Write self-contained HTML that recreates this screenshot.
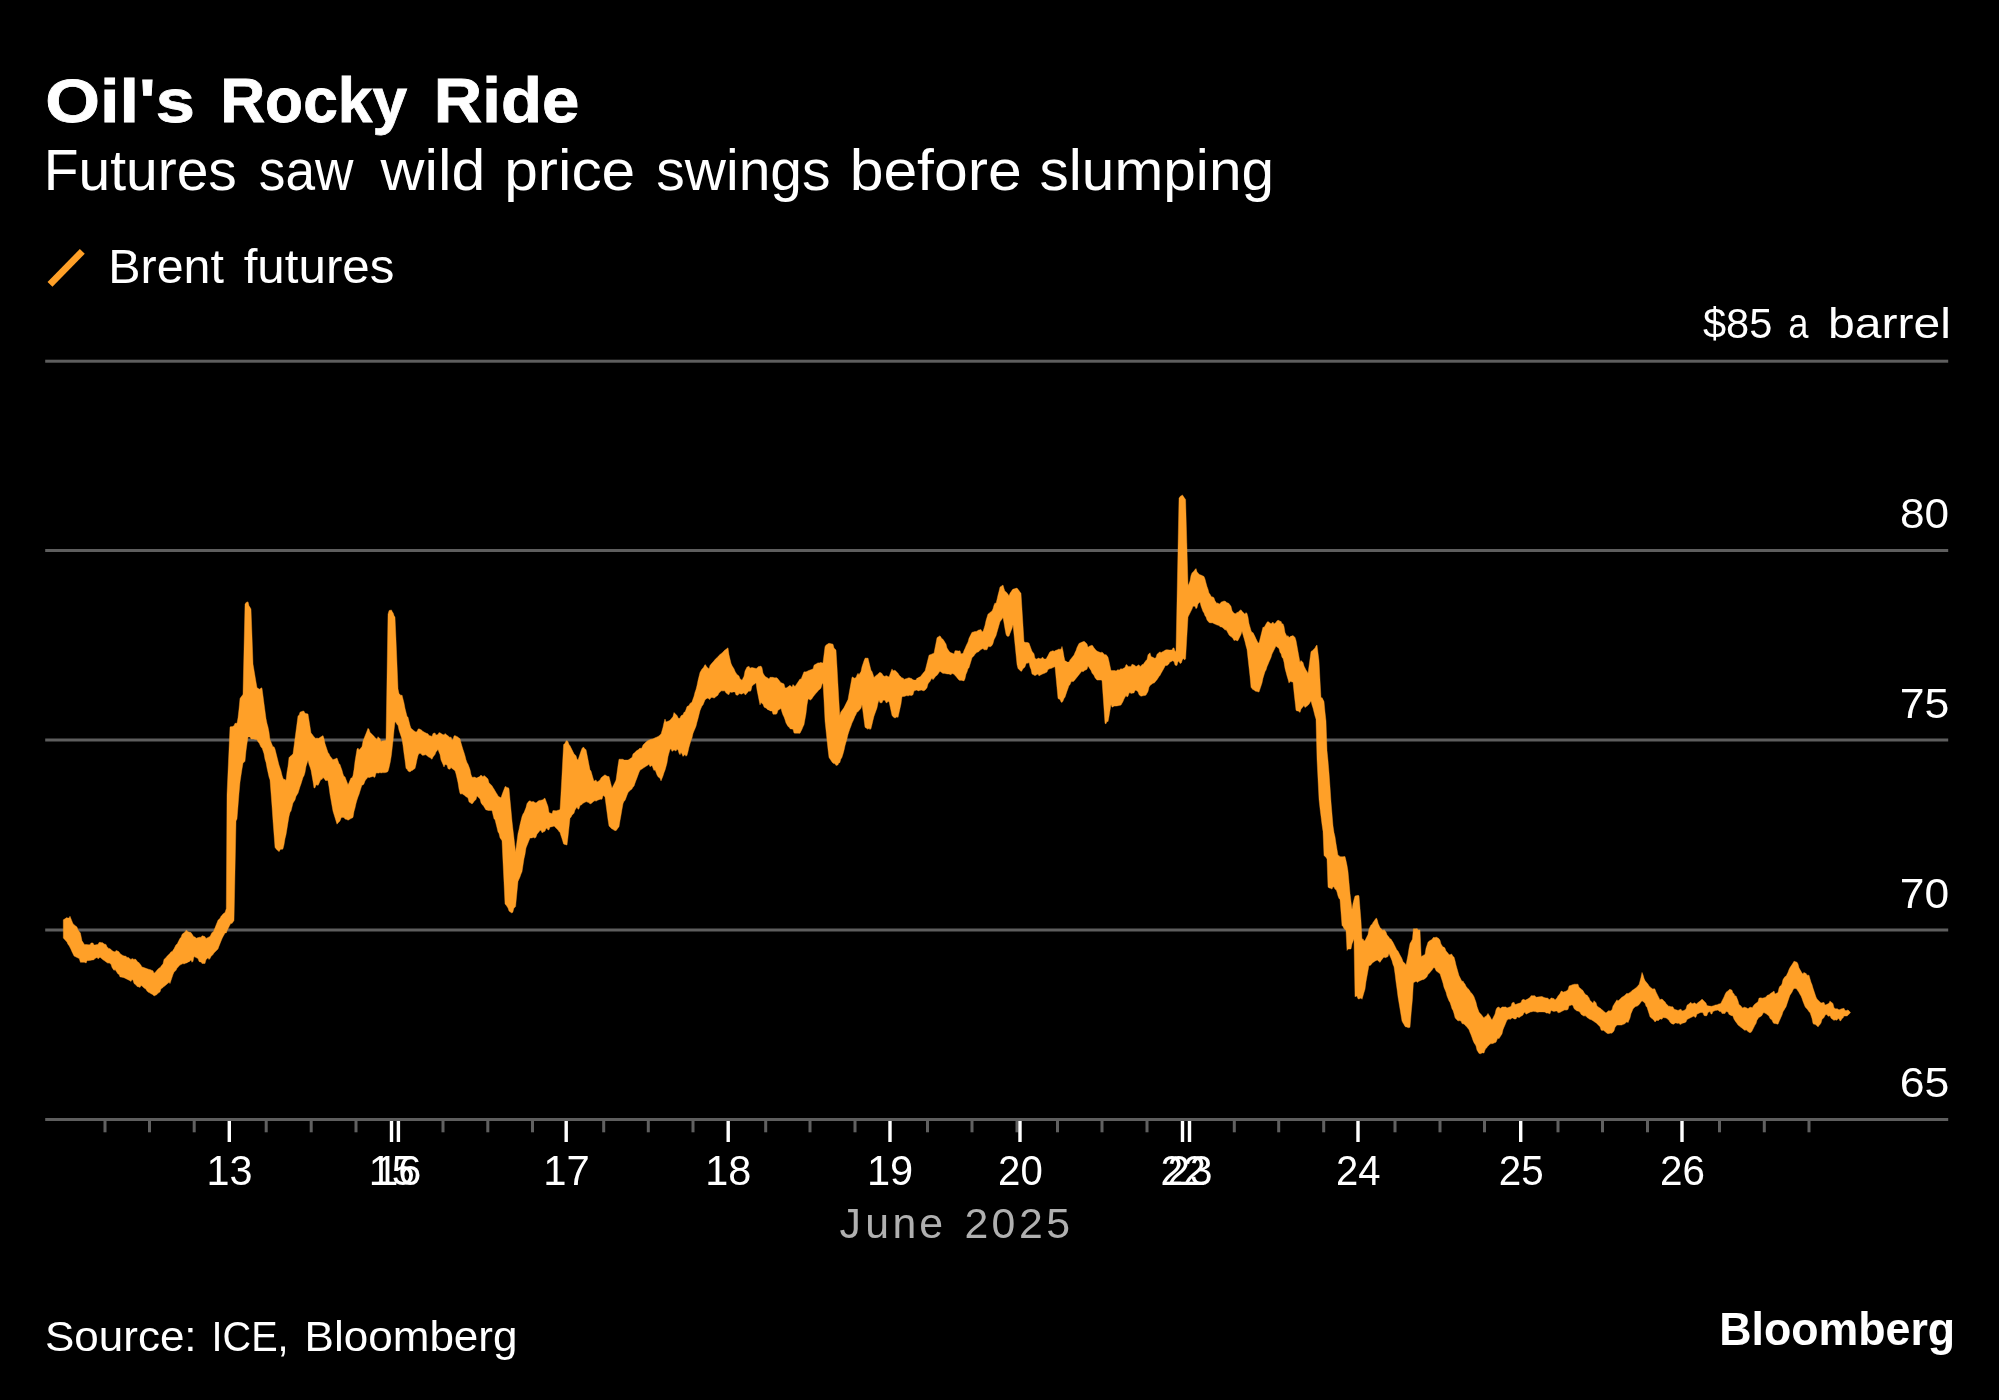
<!DOCTYPE html><html><head><meta charset="utf-8"><title>Oil's Rocky Ride</title>
<style>html,body{margin:0;padding:0;background:#000;}body{width:1999px;height:1400px;overflow:hidden;}svg{display:block;font-family:"Liberation Sans", sans-serif;}</style></head><body>
<svg width="1999" height="1400" viewBox="0 0 1999 1400">
<rect width="1999" height="1400" fill="#000"/>
<rect x="45.2" y="359.7" width="1903" height="3" fill="#5e5e5e"/>
<rect x="45.2" y="549.0" width="1903" height="3" fill="#5e5e5e"/>
<rect x="45.2" y="738.5" width="1903" height="3" fill="#5e5e5e"/>
<rect x="45.2" y="928.5" width="1903" height="3" fill="#5e5e5e"/>
<rect x="45.2" y="1118.0" width="1903" height="3" fill="#5e5e5e"/>
<rect x="103.5" y="1120" width="3" height="12.3" fill="#606060"/>
<rect x="148.0" y="1120" width="3" height="12.3" fill="#606060"/>
<rect x="192.7" y="1120" width="3" height="12.3" fill="#606060"/>
<rect x="264.7" y="1120" width="3" height="12.3" fill="#606060"/>
<rect x="309.7" y="1120" width="3" height="12.3" fill="#606060"/>
<rect x="354.5" y="1120" width="3" height="12.3" fill="#606060"/>
<rect x="441.5" y="1120" width="3" height="12.3" fill="#606060"/>
<rect x="486.3" y="1120" width="3" height="12.3" fill="#606060"/>
<rect x="531.0" y="1120" width="3" height="12.3" fill="#606060"/>
<rect x="602.2" y="1120" width="3" height="12.3" fill="#606060"/>
<rect x="646.8" y="1120" width="3" height="12.3" fill="#606060"/>
<rect x="691.5" y="1120" width="3" height="12.3" fill="#606060"/>
<rect x="764.2" y="1120" width="3" height="12.3" fill="#606060"/>
<rect x="808.5" y="1120" width="3" height="12.3" fill="#606060"/>
<rect x="853.5" y="1120" width="3" height="12.3" fill="#606060"/>
<rect x="926.0" y="1120" width="3" height="12.3" fill="#606060"/>
<rect x="970.5" y="1120" width="3" height="12.3" fill="#606060"/>
<rect x="1015.5" y="1120" width="3" height="12.3" fill="#606060"/>
<rect x="1056.0" y="1120" width="3" height="12.3" fill="#606060"/>
<rect x="1100.5" y="1120" width="3" height="12.3" fill="#606060"/>
<rect x="1145.5" y="1120" width="3" height="12.3" fill="#606060"/>
<rect x="1232.8" y="1120" width="3" height="12.3" fill="#606060"/>
<rect x="1277.2" y="1120" width="3" height="12.3" fill="#606060"/>
<rect x="1322.2" y="1120" width="3" height="12.3" fill="#606060"/>
<rect x="1393.5" y="1120" width="3" height="12.3" fill="#606060"/>
<rect x="1438.5" y="1120" width="3" height="12.3" fill="#606060"/>
<rect x="1483.0" y="1120" width="3" height="12.3" fill="#606060"/>
<rect x="1556.5" y="1120" width="3" height="12.3" fill="#606060"/>
<rect x="1601.0" y="1120" width="3" height="12.3" fill="#606060"/>
<rect x="1646.0" y="1120" width="3" height="12.3" fill="#606060"/>
<rect x="1718.0" y="1120" width="3" height="12.3" fill="#606060"/>
<rect x="1762.8" y="1120" width="3" height="12.3" fill="#606060"/>
<rect x="1807.5" y="1120" width="3" height="12.3" fill="#606060"/>
<rect x="227.6" y="1121" width="3.4" height="21" fill="#fff"/>
<rect x="389.8" y="1121" width="3.4" height="21" fill="#fff"/>
<rect x="396.7" y="1121" width="3.4" height="21" fill="#fff"/>
<rect x="564.5" y="1121" width="3.4" height="21" fill="#fff"/>
<rect x="726.5" y="1121" width="3.4" height="21" fill="#fff"/>
<rect x="888.3" y="1121" width="3.4" height="21" fill="#fff"/>
<rect x="1018.3" y="1121" width="3.4" height="21" fill="#fff"/>
<rect x="1180.8" y="1121" width="3.4" height="21" fill="#fff"/>
<rect x="1187.8" y="1121" width="3.4" height="21" fill="#fff"/>
<rect x="1356.3" y="1121" width="3.4" height="21" fill="#fff"/>
<rect x="1519.0" y="1121" width="3.4" height="21" fill="#fff"/>
<rect x="1680.3" y="1121" width="3.4" height="21" fill="#fff"/>
<path d="M63.3,928.9L63.3,919.8L64.2,919.3L65.1,918.8L66.0,917.8L67.0,917.8L68.0,918.1L69.0,918.1L70.0,916.2L70.8,918.2L71.6,920.2L72.8,923.2L74.0,924.7L75.0,925.5L76.0,926.2L77.0,927.0L78.0,930.0L79.2,931.5L80.4,933.0L81.2,936.8L82.0,940.8L83.2,942.6L84.4,944.4L85.3,944.5L86.2,944.5L87.1,944.6L88.0,944.7L89.0,944.7L90.0,944.7L91.0,942.9L92.0,942.9L93.0,942.9L94.0,945.1L95.0,944.9L96.0,944.7L97.0,944.6L98.0,944.4L99.0,942.5L100.0,942.3L101.0,942.5L102.0,942.7L103.0,942.8L104.0,944.0L105.0,944.2L106.0,944.4L107.0,946.7L108.0,947.7L109.0,948.7L110.0,948.6L111.0,949.6L112.0,950.6L113.0,951.3L114.0,951.6L115.0,951.9L116.0,950.5L117.0,950.8L118.0,951.2L119.0,951.8L120.0,953.5L121.0,954.2L122.0,954.9L123.0,955.5L124.0,955.9L125.0,956.0L126.0,956.2L127.0,957.4L128.0,957.5L129.0,957.7L130.0,958.9L131.0,959.4L132.0,958.4L133.0,958.9L134.0,959.4L135.0,959.1L136.0,959.6L137.0,961.0L138.0,962.3L139.0,962.6L140.0,963.9L141.0,965.3L142.0,967.0L143.0,967.3L144.0,967.6L145.0,968.0L146.0,968.3L147.0,968.7L148.0,969.0L149.0,969.4L150.0,969.6L151.0,970.0L152.0,970.4L153.0,970.8L154.0,973.2L155.0,972.4L156.0,971.6L157.0,970.1L158.0,969.3L159.0,968.0L160.0,967.7L161.0,966.3L162.0,965.0L163.0,963.7L164.0,959.4L165.0,958.4L166.0,957.4L167.0,956.2L168.0,955.2L169.0,954.2L170.0,953.2L171.0,951.7L172.0,951.8L173.0,950.3L174.0,948.8L175.0,946.8L176.0,944.8L177.0,944.3L178.0,942.3L179.0,940.3L180.0,938.3L181.0,937.5L182.0,934.4L183.0,933.6L184.0,932.7L185.0,931.9L186.0,930.3L187.0,930.5L188.0,931.8L189.0,932.0L190.0,932.3L191.0,932.6L192.0,934.1L193.0,935.6L194.0,937.1L195.0,936.8L196.0,938.3L197.0,938.0L198.0,937.6L199.0,937.4L200.0,937.0L201.0,937.4L202.0,935.7L203.0,936.0L204.0,936.3L205.0,936.7L206.0,938.4L207.0,937.9L208.0,937.4L209.0,936.9L210.0,936.4L211.0,934.4L212.0,932.4L213.0,932.3L214.0,930.3L215.0,927.8L216.0,925.2L217.0,922.7L218.0,920.2L219.0,919.2L220.0,918.2L221.0,916.3L222.0,915.3L223.0,913.9L224.0,913.2L225.0,912.6L226.3,908.6L227.0,794.6L228.0,772.0L229.0,749.6L230.0,727.0L231.0,726.5L232.0,726.7L233.0,726.2L234.0,725.7L235.0,723.3L236.0,723.3L237.0,723.3L238.0,717.8L239.0,709.1L240.0,698.4L241.0,697.1L242.0,695.7L243.0,694.3L244.0,649.3L245.0,604.3L246.0,602.5L247.0,602.2L248.0,601.8L249.0,605.7L250.0,607.3L251.0,609.0L252.0,636.0L253.0,664.1L254.0,670.1L255.0,676.1L256.0,682.1L257.0,687.8L258.0,688.2L259.0,688.9L260.0,689.3L261.0,687.8L262.0,688.2L263.0,695.7L264.0,703.4L265.0,710.9L266.0,718.4L267.0,723.4L268.0,727.1L269.0,732.1L270.0,739.7L271.0,742.1L272.0,744.5L273.0,746.9L274.0,746.7L275.0,749.1L276.0,753.1L277.0,757.0L278.0,761.0L279.0,765.0L280.0,768.0L281.0,771.0L282.0,775.2L283.0,778.2L284.0,779.6L285.0,779.3L286.0,780.6L287.0,771.9L288.0,766.2L289.0,757.6L290.0,756.6L291.0,755.8L292.0,754.8L293.0,753.8L294.0,746.2L295.0,738.6L296.0,731.0L297.0,723.4L298.0,715.8L299.0,715.4L300.0,712.2L301.0,711.8L302.0,711.4L303.0,711.0L304.0,711.2L305.0,713.3L306.0,713.5L307.0,713.7L308.0,714.0L309.0,720.3L310.0,726.6L311.0,733.0L312.0,734.1L313.0,735.4L314.0,736.7L315.0,737.7L316.0,738.7L317.0,737.7L318.0,738.7L319.0,738.1L320.0,737.4L321.0,736.8L322.0,736.2L323.0,735.6L324.0,738.6L325.0,743.5L326.0,746.5L327.0,749.5L328.0,752.5L329.0,753.7L330.0,756.1L331.0,757.3L332.0,758.5L333.0,759.7L334.0,759.2L335.0,759.0L336.0,758.5L337.0,758.0L338.0,760.8L339.0,763.6L340.0,764.6L341.0,767.4L342.0,770.2L343.0,773.9L344.0,776.5L345.0,776.8L346.0,779.5L347.0,782.1L348.0,784.8L349.0,782.7L350.0,780.3L351.0,777.9L352.0,777.9L353.0,775.5L354.0,769.5L355.0,761.2L356.0,755.2L357.0,749.2L358.0,748.0L359.0,750.1L360.0,748.9L361.0,747.7L362.0,746.5L363.0,741.3L364.0,738.6L365.0,735.9L366.0,733.6L367.0,730.9L368.0,728.3L369.0,729.3L370.0,732.3L371.0,733.3L372.0,734.3L373.0,735.3L374.0,736.3L375.0,737.4L376.0,738.4L377.0,739.4L378.0,736.7L379.0,737.7L380.0,738.7L381.0,741.4L382.0,741.1L383.0,740.8L384.0,740.8L385.0,740.5L386.0,740.2L387.0,677.2L388.0,614.2L389.1,610.5L390.3,610.2L391.4,609.9L392.3,611.8L393.2,613.1L394.1,615.8L395.0,617.0L396.0,639.4L397.0,664.1L398.0,688.8L399.0,693.5L400.0,694.5L401.0,695.5L402.0,695.0L403.0,699.0L404.0,703.0L405.0,708.3L406.0,712.3L407.0,716.3L408.0,717.3L409.0,721.3L410.0,725.3L411.0,728.3L412.0,729.1L413.0,729.9L414.0,730.7L415.0,731.5L416.0,732.0L417.0,731.5L418.0,729.2L419.0,728.7L420.0,729.3L421.0,729.8L422.0,730.4L423.0,731.4L424.0,732.0L425.0,732.6L426.0,733.1L427.0,733.5L428.0,733.8L429.0,735.4L430.0,735.7L431.0,736.0L432.0,736.4L433.0,733.5L434.0,733.2L435.0,732.9L436.0,735.1L437.0,734.8L438.0,734.4L439.0,732.6L440.0,732.9L441.0,733.2L442.0,734.2L443.0,734.6L444.0,734.9L445.0,733.5L446.0,734.3L447.0,735.2L448.0,735.8L449.0,736.7L450.0,737.5L451.0,736.9L452.0,740.2L453.0,739.6L454.0,736.0L455.0,735.4L456.0,736.2L457.0,736.4L458.0,737.2L459.0,738.0L460.0,738.8L461.0,742.8L462.0,746.2L463.0,749.5L464.0,752.4L465.0,755.7L466.0,759.7L467.0,762.4L468.0,764.2L469.0,766.8L470.0,769.5L471.0,774.5L472.0,777.1L473.0,777.5L474.0,776.9L475.0,777.3L476.0,777.7L477.0,778.1L478.0,777.1L479.0,777.1L480.0,776.1L481.0,775.1L482.0,775.9L483.0,776.7L484.0,775.5L485.0,776.3L486.0,777.1L487.0,778.1L488.0,779.1L489.0,782.8L490.0,783.8L491.0,784.8L492.0,785.8L493.0,787.5L494.0,789.0L495.0,790.7L496.0,792.4L497.0,794.0L498.0,795.7L499.0,796.8L500.0,797.3L501.0,797.8L502.0,794.7L503.0,792.0L504.0,789.4L505.0,786.7L506.0,786.5L507.0,787.8L508.0,787.6L509.0,788.5L510.0,799.5L511.0,810.1L512.0,821.1L512.9,829.0L513.8,836.5L514.7,844.4L515.6,851.9L516.8,842.4L518.0,833.4L519.0,829.4L520.0,824.5L521.0,820.5L522.0,816.5L523.0,814.0L524.0,812.6L525.0,810.1L526.0,807.6L527.0,803.6L528.0,802.3L529.0,801.1L530.0,800.8L531.0,801.4L532.0,802.0L533.0,801.3L534.0,801.9L535.0,802.5L536.0,802.9L537.0,802.1L538.0,801.3L539.0,800.5L540.0,800.4L541.0,800.2L542.0,800.0L543.0,799.8L544.0,798.5L545.0,798.3L546.0,801.0L547.0,803.8L548.0,806.5L549.0,812.5L550.0,812.9L551.0,813.3L552.0,813.7L553.0,810.4L554.0,810.8L555.0,810.5L556.0,810.9L557.0,810.5L558.0,810.2L559.0,809.9L560.0,809.5L560.9,794.8L561.8,778.3L562.7,761.0L563.6,744.5L564.7,743.8L565.9,741.2L567.0,740.5L568.0,741.8L569.0,744.4L570.0,745.7L571.0,747.7L572.0,749.7L573.0,751.8L574.0,753.8L575.0,754.8L576.0,755.8L577.0,758.9L578.0,759.9L579.0,757.1L580.0,753.9L581.0,751.1L582.0,748.4L583.0,747.3L584.0,747.6L585.0,749.3L586.0,749.5L587.0,754.5L588.0,759.5L589.0,764.8L590.0,769.8L591.0,771.0L592.0,774.5L593.0,778.0L594.0,781.3L595.0,780.6L596.0,779.9L597.0,782.0L598.0,781.4L599.0,780.7L600.0,780.0L601.0,777.9L602.0,777.1L603.0,776.3L604.0,775.5L605.0,774.7L606.0,775.6L607.0,776.1L608.0,776.6L609.0,776.4L610.0,780.4L611.0,784.4L612.0,788.2L613.0,786.2L614.0,784.2L615.0,782.2L616.0,780.1L617.0,772.8L618.0,765.5L619.0,759.2L620.0,759.2L621.0,759.2L622.0,759.2L623.0,759.2L624.0,760.1L625.0,760.1L626.0,760.1L627.0,760.1L628.0,760.1L629.0,759.5L630.0,758.8L631.0,758.1L632.0,757.5L633.0,753.9L634.0,753.3L635.0,752.3L636.0,751.3L637.0,750.3L638.0,750.0L639.0,749.0L640.0,748.0L641.0,748.5L642.0,747.5L643.0,745.0L644.0,744.0L645.0,743.0L646.0,742.0L647.0,741.2L648.0,740.5L649.0,739.9L650.0,739.8L651.0,739.2L652.0,739.2L653.0,738.8L654.0,738.4L655.0,737.8L656.0,737.4L657.0,737.0L658.0,736.5L659.0,736.0L660.0,734.7L661.0,734.2L662.0,730.7L663.0,727.2L664.0,722.5L665.0,719.0L666.0,722.0L667.0,721.6L668.0,721.2L669.0,720.8L670.0,720.2L671.0,719.0L672.0,717.7L673.0,716.5L674.0,712.5L675.0,713.5L676.0,714.5L677.0,715.5L678.0,717.6L679.0,718.6L680.0,718.1L681.0,715.8L682.0,715.3L683.0,714.8L684.0,712.3L685.0,712.1L686.0,709.6L687.0,706.6L688.0,706.1L689.0,705.6L690.0,703.4L691.0,702.9L692.0,701.8L693.0,699.0L694.0,696.2L695.0,692.2L696.0,689.4L697.0,685.4L698.0,680.5L699.0,676.5L700.0,672.5L701.0,670.7L702.0,668.9L703.0,668.2L704.0,666.4L705.0,664.6L706.0,665.4L707.0,667.2L708.0,667.9L709.0,668.7L710.0,665.5L711.0,664.3L712.0,663.1L713.0,662.0L714.0,660.8L715.0,659.6L716.0,658.4L717.0,657.8L718.0,656.6L719.0,655.4L720.0,654.5L721.0,653.7L722.0,652.9L723.0,652.1L724.0,650.8L725.0,650.0L726.0,649.3L727.0,648.5L728.0,647.8L729.0,654.8L730.0,659.1L731.0,663.3L732.0,665.6L733.0,667.2L734.0,668.8L735.0,671.3L736.0,672.9L737.0,674.5L738.0,675.3L739.0,676.1L740.0,678.7L741.0,679.5L742.0,680.2L743.0,678.2L744.0,676.2L745.0,671.1L746.0,669.1L747.0,667.1L748.0,666.7L749.0,666.3L750.0,668.2L751.0,667.8L752.0,667.4L753.0,667.7L754.0,668.0L755.0,668.2L756.0,668.5L757.0,668.2L758.0,666.8L759.0,666.5L760.0,666.3L761.0,666.1L762.0,667.7L763.0,673.1L764.0,674.7L765.0,676.3L766.0,677.1L767.0,677.4L768.0,678.2L769.0,679.0L770.0,677.3L771.0,677.3L772.0,677.3L773.0,677.3L774.0,677.8L775.0,677.8L776.0,677.8L777.0,677.8L778.0,679.0L779.0,680.2L780.0,681.4L781.0,682.7L782.0,683.1L783.0,683.5L784.0,683.9L785.0,687.7L786.0,688.1L787.0,687.6L788.0,686.8L789.0,686.1L790.0,685.2L791.0,686.2L792.0,687.2L793.0,684.5L794.0,685.5L795.0,686.5L796.0,685.0L797.0,683.4L798.0,682.1L799.0,680.5L800.0,678.9L801.0,679.2L802.0,676.7L803.0,674.2L804.0,671.7L805.0,672.0L806.0,671.7L807.0,671.5L808.0,670.8L809.0,670.4L810.0,670.0L811.0,669.7L812.0,669.3L813.0,668.9L814.0,665.2L815.0,664.6L816.0,664.0L817.0,663.4L818.0,662.8L819.0,663.1L820.0,662.7L821.0,662.3L822.0,663.1L823.0,662.7L824.0,654.7L825.0,646.7L826.0,645.1L827.0,644.6L828.0,643.8L829.0,643.3L830.0,643.4L831.0,643.7L832.0,643.9L833.0,644.2L834.0,648.1L835.0,649.1L836.0,650.1L837.0,666.6L837.9,683.1L838.8,699.1L839.8,715.6L840.8,712.1L841.9,710.6L843.0,709.1L844.0,707.6L845.0,705.6L846.0,703.5L847.0,701.5L848.0,699.5L849.0,693.8L850.0,688.3L851.0,682.8L852.0,677.3L853.0,676.9L854.0,678.3L855.0,677.9L856.0,677.5L857.0,674.9L858.0,673.3L859.0,674.7L860.0,673.1L861.0,671.5L862.0,666.7L863.0,663.7L864.0,660.7L865.0,658.3L866.0,657.9L867.0,658.3L868.0,658.0L869.0,662.3L870.0,666.3L871.0,670.3L872.0,671.6L873.0,674.3L874.0,677.4L875.0,676.4L876.0,675.4L877.0,674.9L878.0,673.9L879.0,672.9L880.0,672.3L881.0,672.9L882.0,673.5L883.0,675.5L884.0,676.1L885.0,676.5L886.0,675.6L887.0,676.0L888.0,676.4L889.0,676.9L890.0,674.2L891.0,671.6L892.0,668.9L893.0,670.8L894.0,670.5L895.0,670.2L896.0,671.2L897.0,672.3L898.0,673.3L899.0,674.8L900.0,676.3L901.0,676.7L902.0,678.2L903.0,677.8L904.0,679.4L905.0,679.0L906.0,678.7L907.0,678.4L908.0,678.0L909.0,677.7L910.0,678.1L911.0,678.4L912.0,678.7L913.0,679.8L914.0,680.1L915.0,680.1L916.0,680.1L917.0,678.1L918.0,678.1L919.0,677.0L920.0,677.0L921.0,675.8L922.0,674.5L923.0,673.3L924.0,672.1L925.0,670.9L926.0,667.2L927.0,663.2L928.0,659.2L929.0,655.2L930.0,654.8L931.0,654.4L932.0,654.0L933.0,653.6L934.0,653.2L935.0,647.9L936.0,643.0L937.0,637.7L938.0,637.0L939.0,636.4L940.0,635.8L941.0,637.3L942.0,638.8L943.0,639.3L944.0,640.8L945.0,642.4L946.0,644.0L947.0,647.9L948.0,649.5L949.0,651.1L950.0,652.3L951.0,652.7L952.0,653.1L953.0,653.5L954.0,653.9L955.0,650.7L956.0,650.7L957.0,650.7L958.0,651.0L959.0,651.0L960.0,650.7L961.0,653.9L962.0,653.6L963.0,653.4L964.0,650.6L965.0,648.4L966.0,646.1L967.0,643.9L968.0,641.9L969.0,638.3L970.0,636.3L971.0,634.3L972.0,632.3L973.0,632.2L974.0,631.7L975.0,631.6L976.0,631.4L977.0,631.2L978.0,630.2L979.0,630.0L980.0,629.8L981.0,629.6L982.0,631.8L983.0,631.6L984.0,628.4L985.0,625.2L986.0,620.5L987.0,617.3L988.0,614.1L989.0,613.4L990.0,612.5L991.0,611.7L992.0,611.0L993.0,608.7L994.0,605.2L995.0,602.9L996.0,603.6L997.0,599.4L998.0,595.1L999.0,591.3L1000.0,587.1L1001.0,586.4L1002.0,585.7L1003.0,585.1L1004.0,588.5L1005.0,591.5L1006.0,591.7L1007.0,593.0L1008.0,594.3L1009.0,595.7L1010.0,593.3L1011.0,591.8L1012.0,590.3L1013.0,589.1L1014.0,588.9L1015.0,588.6L1016.0,588.3L1017.0,588.1L1018.0,589.3L1019.0,590.6L1020.0,592.1L1021.0,593.3L1022.0,609.3L1023.0,625.3L1024.0,641.8L1025.0,642.2L1026.0,642.6L1027.0,642.3L1028.0,642.7L1029.0,643.1L1030.0,645.8L1031.0,648.5L1032.0,651.2L1033.0,652.5L1034.0,653.8L1035.0,658.4L1036.0,658.8L1037.0,659.2L1038.0,657.9L1039.0,658.3L1040.0,658.7L1041.0,658.7L1042.0,657.5L1043.0,657.5L1044.0,659.0L1045.0,659.0L1046.0,659.0L1047.0,657.3L1048.0,655.5L1049.0,653.6L1050.0,651.8L1051.0,651.6L1052.0,650.9L1053.0,650.7L1054.0,651.2L1055.0,651.0L1056.0,650.0L1057.0,650.2L1058.0,649.2L1059.0,649.2L1060.0,649.2L1061.0,649.2L1062.0,646.4L1063.0,650.7L1064.0,656.6L1065.0,661.0L1066.0,661.0L1067.0,662.1L1068.0,662.1L1069.0,662.1L1070.0,659.9L1071.0,658.7L1072.0,657.5L1073.0,656.3L1074.0,655.1L1075.0,652.6L1076.0,650.6L1077.0,647.4L1078.0,645.4L1079.0,643.4L1080.0,643.0L1081.0,642.6L1082.0,642.1L1083.0,641.7L1084.0,641.3L1085.0,642.0L1086.0,643.0L1087.0,644.0L1088.0,647.3L1089.0,646.6L1090.0,645.8L1091.0,645.7L1092.0,645.0L1093.0,646.2L1094.0,647.8L1095.0,649.0L1096.0,650.2L1097.0,651.1L1098.0,651.5L1099.0,651.9L1100.0,652.3L1101.0,652.7L1102.0,651.9L1103.0,652.9L1104.0,653.9L1105.0,654.9L1106.0,654.5L1107.0,655.8L1108.0,657.2L1109.0,661.3L1110.0,665.9L1111.0,670.6L1112.0,670.6L1113.0,670.6L1114.0,670.5L1115.0,670.5L1116.0,671.1L1117.0,670.3L1118.0,669.5L1119.0,670.2L1120.0,669.4L1121.0,668.6L1122.0,669.2L1123.0,668.6L1124.0,668.0L1125.0,667.4L1126.0,664.7L1127.0,664.7L1128.0,666.4L1129.0,666.4L1130.0,666.4L1131.0,666.4L1132.0,664.2L1133.0,664.6L1134.0,665.0L1135.0,665.4L1136.0,666.5L1137.0,666.1L1138.0,665.2L1139.0,664.8L1140.0,666.4L1141.0,666.0L1142.0,664.6L1143.0,664.6L1144.0,663.2L1145.0,661.8L1146.0,660.4L1147.0,659.4L1148.0,654.8L1149.0,653.8L1150.0,652.8L1151.0,656.5L1152.0,656.9L1153.0,657.3L1154.0,657.9L1155.0,658.3L1156.0,657.5L1157.0,654.2L1158.0,653.4L1159.0,652.6L1160.0,651.8L1161.0,652.7L1162.0,652.1L1163.0,651.5L1164.0,650.9L1165.0,650.3L1166.0,649.8L1167.0,649.8L1168.0,649.8L1169.0,650.0L1170.0,650.0L1171.0,650.0L1172.0,650.0L1173.0,647.9L1174.0,647.9L1175.0,651.2L1176.0,651.2L1177.0,600.2L1178.0,549.2L1179.0,498.2L1180.1,496.5L1181.3,495.7L1182.4,494.9L1183.5,496.6L1184.5,498.1L1185.6,499.5L1186.8,542.5L1188.0,585.5L1189.0,583.5L1190.0,581.0L1191.0,575.4L1192.0,572.9L1193.0,571.9L1194.0,570.9L1195.0,569.6L1196.0,568.6L1197.0,571.7L1198.0,572.9L1199.0,574.2L1200.0,574.7L1201.0,575.1L1202.0,575.5L1203.0,576.1L1204.0,576.5L1205.0,579.1L1206.0,582.9L1207.0,586.6L1208.0,589.2L1209.0,593.0L1210.0,594.2L1211.0,596.1L1212.0,597.3L1213.0,596.7L1214.0,597.9L1215.0,600.8L1216.0,602.2L1217.0,603.6L1218.0,602.8L1219.0,604.2L1220.0,603.6L1221.0,602.3L1222.0,601.7L1223.0,601.5L1224.0,600.9L1225.0,601.3L1226.0,601.7L1227.0,602.7L1228.0,603.1L1229.0,603.5L1230.0,604.9L1231.0,606.3L1232.0,610.5L1233.0,611.9L1234.0,613.3L1235.0,613.5L1236.0,613.8L1237.0,612.2L1238.0,612.5L1239.0,611.2L1240.0,610.4L1241.0,609.7L1242.0,611.2L1243.0,612.2L1244.0,613.2L1245.0,614.2L1246.0,612.6L1247.0,613.6L1248.0,617.1L1249.0,623.4L1250.0,626.9L1251.0,630.4L1252.0,632.4L1253.0,632.6L1254.0,634.6L1255.0,636.6L1256.0,638.8L1257.0,640.8L1258.0,642.8L1259.0,643.1L1260.0,639.1L1261.0,635.1L1262.0,631.1L1263.0,627.1L1264.0,627.5L1265.0,625.8L1266.0,624.0L1267.0,622.3L1268.0,621.6L1269.0,622.3L1270.0,623.1L1271.0,623.7L1272.0,622.9L1273.0,622.1L1274.0,624.0L1275.0,623.2L1276.0,622.4L1277.0,620.7L1278.0,620.5L1279.0,620.3L1280.0,621.5L1281.0,621.3L1282.0,624.1L1283.0,623.7L1284.0,626.4L1285.0,632.4L1286.0,634.4L1287.0,636.4L1288.0,635.6L1289.0,637.6L1290.0,636.8L1291.0,636.1L1292.0,636.1L1293.0,635.4L1294.0,636.4L1295.0,637.4L1296.0,640.4L1297.0,645.9L1298.0,651.4L1299.0,656.9L1300.0,662.4L1301.0,660.5L1302.0,661.5L1303.0,662.5L1304.0,666.1L1305.0,668.1L1306.0,670.1L1307.0,671.5L1308.0,673.5L1309.0,666.2L1310.0,658.8L1311.0,651.5L1312.0,650.9L1313.0,649.9L1314.0,648.9L1315.0,647.9L1316.0,645.9L1317.0,645.0L1318.0,653.0L1319.0,661.0L1320.0,680.1L1321.0,698.1L1322.0,697.5L1323.0,699.5L1324.0,701.5L1325.0,712.0L1326.0,721.0L1327.0,750.6L1328.0,760.6L1329.0,772.6L1330.0,786.6L1331.0,801.8L1332.0,813.8L1333.0,825.8L1334.0,832.5L1335.0,836.7L1336.0,843.4L1337.0,849.4L1338.0,855.4L1339.0,855.4L1340.0,856.7L1341.0,856.7L1342.0,856.7L1343.0,856.7L1344.0,856.6L1345.0,856.6L1346.0,860.6L1347.0,865.3L1348.0,871.3L1349.0,882.3L1350.0,893.3L1351.0,901.4L1352.0,909.4L1353.0,903.5L1354.0,899.5L1355.0,896.1L1356.0,895.8L1357.0,895.6L1358.0,895.3L1359.0,895.8L1360.0,908.3L1361.0,920.8L1362.0,939.4L1363.0,938.7L1364.0,941.1L1365.0,940.4L1366.0,938.4L1367.0,936.4L1368.0,934.4L1369.0,929.0L1370.0,927.0L1371.0,925.0L1372.0,924.4L1373.0,922.4L1374.1,921.0L1375.3,919.2L1376.4,917.9L1377.3,919.9L1378.2,923.5L1379.1,925.5L1380.0,927.5L1381.0,928.6L1382.0,929.6L1383.0,930.6L1384.0,929.6L1385.0,930.8L1386.0,932.0L1387.0,934.8L1388.0,936.0L1389.0,937.2L1390.0,938.8L1391.0,939.1L1392.0,940.7L1393.0,942.3L1394.0,944.2L1395.0,946.2L1396.0,948.2L1397.0,950.2L1398.0,951.1L1399.0,953.1L1400.0,955.1L1401.0,956.8L1402.0,958.8L1403.0,961.6L1404.0,962.6L1405.0,963.6L1406.0,965.0L1407.0,960.0L1408.0,955.0L1409.0,948.5L1410.0,943.5L1411.2,941.5L1412.4,939.2L1413.4,928.8L1414.3,928.8L1415.3,928.8L1416.2,928.7L1417.2,928.6L1418.1,930.1L1419.1,930.0L1420.0,929.9L1421.2,956.4L1422.2,955.9L1423.1,955.4L1424.0,954.9L1425.0,954.4L1426.0,948.3L1427.0,945.3L1428.0,942.3L1429.0,941.2L1430.0,940.6L1431.0,940.0L1432.0,939.4L1433.0,937.8L1434.0,937.2L1435.0,937.8L1436.0,936.9L1437.0,937.5L1438.0,938.1L1439.0,938.7L1440.0,940.3L1441.0,943.9L1442.0,945.5L1443.0,947.1L1444.0,947.1L1445.0,948.3L1446.0,950.9L1447.0,952.1L1448.0,953.3L1449.0,954.5L1450.0,954.9L1451.0,954.0L1452.0,954.4L1453.0,956.6L1454.0,957.0L1455.0,960.6L1456.0,964.9L1457.0,968.5L1458.0,972.1L1459.0,975.5L1460.0,977.5L1461.0,979.5L1462.0,981.5L1463.0,980.9L1464.0,982.9L1465.0,984.1L1466.0,986.3L1467.0,987.5L1468.0,988.7L1469.0,989.6L1470.0,991.2L1471.0,992.8L1472.0,993.5L1473.0,995.1L1474.0,996.7L1475.0,999.5L1476.0,1002.3L1477.0,1006.5L1478.0,1009.3L1479.0,1012.1L1480.0,1013.3L1481.0,1014.3L1482.0,1015.5L1483.0,1016.7L1484.0,1017.9L1485.0,1016.4L1486.0,1016.4L1487.0,1014.9L1488.0,1013.4L1489.0,1015.1L1490.0,1016.6L1491.0,1018.5L1492.0,1020.0L1493.0,1018.0L1494.0,1016.0L1495.0,1014.0L1496.0,1009.7L1497.0,1007.7L1498.0,1007.3L1499.0,1006.9L1500.0,1008.5L1501.0,1008.1L1502.0,1006.9L1503.0,1006.9L1504.0,1006.9L1505.0,1006.9L1506.0,1006.9L1507.0,1008.0L1508.0,1007.6L1509.0,1007.2L1510.0,1006.8L1511.0,1006.4L1512.0,1002.9L1513.0,1002.6L1514.0,1002.2L1515.0,1004.6L1516.0,1004.3L1517.0,1003.9L1518.0,1003.6L1519.0,1003.3L1520.0,1003.0L1521.0,1002.6L1522.0,999.9L1523.0,999.6L1524.0,999.2L1525.0,1000.3L1526.0,999.8L1527.0,999.3L1528.0,998.8L1529.0,998.0L1530.0,997.5L1531.0,995.7L1532.0,995.7L1533.0,995.7L1534.0,995.7L1535.0,995.7L1536.0,997.3L1537.0,997.1L1538.0,997.0L1539.0,996.8L1540.0,996.7L1541.0,996.6L1542.0,996.4L1543.0,997.0L1544.0,997.4L1545.0,997.7L1546.0,998.0L1547.0,997.9L1548.0,998.2L1549.0,999.4L1550.0,999.6L1551.0,997.9L1552.0,998.0L1553.0,998.4L1554.0,998.6L1555.0,1000.0L1556.0,998.9L1557.0,997.7L1558.0,995.9L1559.0,994.8L1560.0,993.6L1561.0,991.3L1562.0,991.0L1563.0,992.2L1564.0,991.8L1565.0,991.5L1566.0,991.2L1567.0,990.5L1568.0,989.7L1569.0,986.2L1570.0,985.4L1571.0,985.6L1572.0,984.7L1573.0,984.7L1574.0,984.2L1575.0,984.2L1576.0,984.2L1577.0,984.2L1578.0,984.2L1579.0,987.2L1580.0,988.1L1581.0,988.9L1582.0,989.7L1583.0,990.6L1584.0,992.4L1585.0,993.7L1586.0,995.0L1587.0,995.0L1588.0,996.4L1589.0,997.7L1590.0,1000.3L1591.0,1001.3L1592.0,1002.3L1593.0,1003.3L1594.0,1000.7L1595.0,1001.7L1596.0,1002.7L1597.0,1006.1L1598.0,1006.7L1599.0,1007.4L1600.0,1008.1L1601.0,1008.7L1602.0,1009.8L1603.0,1010.6L1604.0,1011.4L1605.0,1012.2L1606.0,1013.0L1607.0,1012.0L1608.0,1011.2L1609.0,1010.4L1610.0,1011.3L1611.0,1010.5L1612.0,1009.7L1613.0,1006.0L1614.0,1004.4L1615.0,1002.8L1616.0,1001.3L1617.0,999.7L1618.0,1000.9L1619.0,1000.1L1620.0,999.3L1621.0,998.0L1622.0,997.2L1623.0,996.6L1624.0,995.9L1625.0,995.2L1626.0,994.0L1627.0,993.3L1628.0,993.7L1629.0,993.0L1630.0,992.4L1631.0,991.7L1632.0,990.5L1633.0,989.9L1634.0,989.3L1635.0,988.5L1636.0,987.7L1637.0,986.9L1638.0,985.5L1639.0,984.7L1640.0,981.0L1641.0,977.3L1642.0,972.4L1643.0,974.8L1644.0,978.3L1645.0,980.6L1646.0,981.8L1647.0,983.0L1648.0,984.2L1649.0,985.7L1650.0,986.9L1651.0,987.7L1652.0,988.5L1653.0,989.3L1654.0,988.4L1655.0,989.2L1656.0,991.9L1657.0,993.9L1658.0,995.9L1659.0,997.9L1660.0,999.9L1661.0,999.0L1662.0,999.3L1663.0,999.7L1664.0,1001.3L1665.0,1001.7L1666.0,1003.6L1667.0,1004.6L1668.0,1005.6L1669.0,1006.6L1670.0,1005.9L1671.0,1006.9L1672.0,1006.6L1673.0,1007.0L1674.0,1009.1L1675.0,1009.4L1676.0,1009.8L1677.0,1010.1L1678.0,1010.4L1679.0,1009.9L1680.0,1009.5L1681.0,1009.2L1682.0,1011.0L1683.0,1010.7L1684.0,1010.4L1685.0,1009.7L1686.0,1009.0L1687.0,1005.3L1688.0,1004.6L1689.0,1004.0L1690.0,1002.7L1691.0,1002.4L1692.0,1003.8L1693.0,1003.4L1694.0,1003.1L1695.0,1002.8L1696.0,1004.2L1697.0,1003.4L1698.0,1002.6L1699.0,1001.8L1700.0,1001.1L1701.0,1000.3L1702.0,999.1L1703.0,1000.1L1704.0,1001.1L1705.0,1002.1L1706.0,1003.1L1707.0,1005.6L1708.0,1005.8L1709.0,1006.0L1710.0,1006.1L1711.0,1006.3L1712.0,1006.3L1713.0,1005.8L1714.0,1005.7L1715.0,1004.9L1716.0,1004.9L1717.0,1004.8L1718.0,1004.5L1719.0,1003.7L1720.0,1003.9L1721.0,1003.1L1722.0,1000.9L1723.0,998.9L1724.0,996.9L1725.0,994.4L1726.0,992.4L1727.0,991.5L1728.0,991.0L1729.0,989.7L1730.0,989.2L1731.0,989.7L1732.0,990.2L1733.0,993.2L1734.0,993.7L1735.0,996.2L1736.0,995.8L1737.0,998.3L1738.0,1000.8L1739.0,1004.4L1740.0,1005.2L1741.0,1006.0L1742.0,1007.4L1743.0,1008.2L1744.0,1006.9L1745.0,1007.5L1746.0,1007.6L1747.0,1008.2L1748.0,1008.8L1749.0,1007.7L1750.0,1007.4L1751.0,1007.1L1752.0,1007.9L1753.0,1006.4L1754.0,1004.9L1755.0,1004.0L1756.0,1003.2L1757.0,1002.5L1758.0,1001.7L1759.0,998.1L1760.0,997.9L1761.0,997.7L1762.0,998.2L1763.0,998.0L1764.0,997.8L1765.0,997.4L1766.0,997.0L1767.0,995.5L1768.0,995.1L1769.0,994.7L1770.0,993.9L1771.0,993.1L1772.0,992.6L1773.0,991.8L1774.0,991.0L1775.0,994.0L1776.0,993.5L1777.0,993.0L1778.0,992.5L1779.0,988.1L1780.0,986.1L1781.0,985.8L1782.0,983.8L1783.0,979.6L1784.0,978.1L1785.0,976.6L1786.0,976.3L1787.0,974.3L1788.0,972.3L1789.0,969.6L1790.0,967.6L1791.0,966.1L1792.0,964.6L1793.0,963.1L1794.0,961.2L1795.0,961.6L1796.0,961.9L1797.0,962.2L1798.0,964.0L1799.0,967.8L1800.0,969.6L1801.0,971.3L1802.0,973.1L1803.0,974.1L1804.0,972.3L1805.0,973.3L1806.0,973.3L1807.0,975.2L1808.0,975.2L1809.0,975.2L1810.0,978.7L1811.0,982.2L1812.0,984.6L1813.0,988.1L1814.0,991.1L1815.0,994.1L1816.0,997.1L1817.0,998.9L1818.0,999.9L1819.0,1000.9L1820.0,1001.9L1821.0,1003.0L1822.0,1002.8L1823.0,1002.6L1824.0,1002.4L1825.0,1005.0L1826.0,1004.8L1827.0,1004.3L1828.0,1003.8L1829.0,1003.3L1830.0,1000.9L1831.0,1002.2L1832.0,1002.5L1833.0,1003.7L1834.0,1007.8L1835.0,1008.4L1836.0,1009.0L1837.0,1008.6L1838.0,1009.2L1839.0,1009.8L1840.0,1009.6L1841.0,1008.9L1842.0,1008.7L1843.0,1008.5L1844.0,1008.3L1845.0,1010.5L1846.0,1010.5L1847.0,1010.5L1848.0,1009.8L1850.5,1012.5L1848.0,1015.3L1847.0,1016.0L1846.0,1016.0L1845.0,1016.0L1844.0,1016.0L1843.0,1018.0L1842.0,1018.4L1841.0,1020.5L1840.0,1020.9L1839.0,1018.7L1838.0,1018.5L1837.0,1020.2L1836.0,1020.0L1835.0,1019.8L1834.0,1020.4L1833.0,1019.6L1832.0,1018.9L1831.0,1018.1L1830.0,1015.8L1829.0,1016.0L1828.0,1016.3L1827.0,1014.4L1826.0,1014.6L1825.0,1015.6L1824.0,1017.5L1823.0,1018.5L1822.0,1019.5L1821.0,1023.1L1820.0,1024.4L1819.0,1025.6L1818.0,1026.9L1817.0,1025.8L1816.0,1025.1L1815.0,1024.3L1814.0,1024.3L1813.0,1023.6L1812.0,1018.5L1811.0,1015.5L1810.0,1012.5L1809.0,1011.8L1808.0,1010.3L1807.0,1008.8L1806.0,1008.0L1805.0,1006.5L1804.0,1004.0L1803.0,1001.5L1802.0,998.4L1801.0,995.9L1800.0,994.4L1799.0,992.6L1798.0,991.1L1797.0,989.6L1796.0,988.4L1795.0,988.4L1794.0,988.4L1793.0,989.9L1792.0,992.2L1791.0,993.7L1790.0,995.2L1789.0,997.9L1788.0,1000.9L1787.0,1003.9L1786.0,1006.9L1785.0,1008.4L1784.0,1010.3L1783.0,1011.8L1782.0,1015.1L1781.0,1017.3L1780.0,1019.6L1779.0,1021.8L1778.0,1024.2L1777.0,1024.0L1776.0,1023.7L1775.0,1023.6L1774.0,1023.4L1773.0,1022.6L1772.0,1020.1L1771.0,1019.3L1770.0,1018.5L1769.0,1016.0L1768.0,1015.2L1767.0,1014.4L1766.0,1013.6L1765.0,1013.3L1764.0,1012.5L1763.0,1013.3L1762.0,1015.4L1761.0,1016.2L1760.0,1017.0L1759.0,1017.2L1758.0,1018.7L1757.0,1020.2L1756.0,1023.6L1755.0,1025.1L1754.0,1027.1L1753.0,1029.1L1752.0,1031.1L1751.0,1032.4L1750.0,1032.4L1749.0,1032.4L1748.0,1031.4L1747.0,1030.6L1746.0,1029.8L1745.0,1030.5L1744.0,1029.7L1743.0,1028.9L1742.0,1028.1L1741.0,1027.4L1740.0,1026.6L1739.0,1025.8L1738.0,1025.0L1737.0,1023.5L1736.0,1022.2L1735.0,1020.7L1734.0,1019.2L1733.0,1016.4L1732.0,1015.4L1731.0,1015.7L1730.0,1014.7L1729.0,1014.5L1728.0,1012.0L1727.0,1011.8L1726.0,1011.5L1725.0,1013.5L1724.0,1013.5L1723.0,1013.5L1722.0,1013.5L1721.0,1011.6L1720.0,1011.4L1719.0,1011.2L1718.0,1010.0L1717.0,1010.3L1716.0,1010.4L1715.0,1010.4L1714.0,1011.2L1713.0,1011.3L1712.0,1013.9L1711.0,1014.1L1710.0,1011.6L1709.0,1012.0L1708.0,1012.4L1707.0,1015.5L1706.0,1015.9L1705.0,1015.7L1704.0,1015.5L1703.0,1012.8L1702.0,1012.6L1701.0,1012.4L1700.0,1012.8L1699.0,1013.2L1698.0,1013.7L1697.0,1014.1L1696.0,1017.0L1695.0,1017.5L1694.0,1016.0L1693.0,1016.5L1692.0,1017.0L1691.0,1017.5L1690.0,1018.0L1689.0,1018.5L1688.0,1019.0L1687.0,1019.5L1686.0,1021.9L1685.0,1022.4L1684.0,1022.9L1683.0,1023.1L1682.0,1023.6L1681.0,1024.1L1680.0,1024.6L1679.0,1022.9L1678.0,1023.4L1677.0,1023.2L1676.0,1023.0L1675.0,1022.9L1674.0,1024.3L1673.0,1024.1L1672.0,1023.9L1671.0,1023.1L1670.0,1022.3L1669.0,1020.3L1668.0,1019.4L1667.0,1018.6L1666.0,1018.0L1665.0,1017.8L1664.0,1017.7L1663.0,1017.5L1662.0,1019.3L1661.0,1019.1L1660.0,1018.9L1659.0,1019.9L1658.0,1020.9L1657.0,1020.0L1656.0,1021.0L1655.0,1022.0L1654.0,1020.4L1653.0,1019.4L1652.0,1018.4L1651.0,1017.8L1650.0,1016.8L1649.0,1013.6L1648.0,1010.4L1647.0,1007.2L1646.0,1006.2L1645.0,1003.0L1644.0,1002.4L1643.0,1001.4L1642.0,1000.7L1641.0,1002.1L1640.0,1003.4L1639.0,1004.7L1638.0,1005.5L1637.0,1006.3L1636.0,1006.2L1635.0,1007.0L1634.0,1007.8L1633.0,1009.1L1632.0,1011.4L1631.0,1013.7L1630.0,1018.0L1629.0,1020.3L1628.0,1022.7L1627.0,1021.7L1626.0,1022.6L1625.0,1023.4L1624.0,1024.2L1623.0,1024.3L1622.0,1025.1L1621.0,1025.1L1620.0,1025.1L1619.0,1025.1L1618.0,1025.1L1617.0,1025.1L1616.0,1026.3L1615.0,1027.5L1614.0,1030.9L1613.0,1032.1L1612.0,1033.3L1611.0,1033.1L1610.0,1033.3L1609.0,1033.5L1608.0,1033.7L1607.0,1033.2L1606.0,1032.4L1605.0,1031.6L1604.0,1030.8L1603.0,1030.0L1602.0,1030.8L1601.0,1029.8L1600.0,1026.8L1599.0,1025.8L1598.0,1024.8L1597.0,1023.8L1596.0,1022.8L1595.0,1022.2L1594.0,1021.5L1593.0,1020.8L1592.0,1020.2L1591.0,1019.5L1590.0,1019.4L1589.0,1018.7L1588.0,1018.1L1587.0,1017.4L1586.0,1016.3L1585.0,1015.6L1584.0,1016.2L1583.0,1015.5L1582.0,1014.9L1581.0,1014.2L1580.0,1012.3L1579.0,1011.6L1578.0,1011.0L1577.0,1011.1L1576.0,1010.3L1575.0,1009.4L1574.0,1008.6L1573.0,1005.7L1572.0,1004.8L1571.0,1005.2L1570.0,1005.5L1569.0,1005.8L1568.0,1009.5L1567.0,1009.8L1566.0,1010.2L1565.0,1009.8L1564.0,1010.3L1563.0,1010.8L1562.0,1011.3L1561.0,1011.8L1560.0,1012.4L1559.0,1012.6L1558.0,1012.8L1557.0,1011.0L1556.0,1011.1L1555.0,1011.3L1554.0,1011.5L1553.0,1011.3L1552.0,1010.7L1551.0,1010.5L1550.0,1013.8L1549.0,1013.6L1548.0,1013.1L1547.0,1013.1L1546.0,1013.1L1545.0,1012.1L1544.0,1012.1L1543.0,1011.9L1542.0,1011.9L1541.0,1011.9L1540.0,1011.9L1539.0,1011.9L1538.0,1012.2L1537.0,1012.2L1536.0,1011.8L1535.0,1011.6L1534.0,1011.5L1533.0,1011.3L1532.0,1011.9L1531.0,1011.8L1530.0,1012.2L1529.0,1012.7L1528.0,1013.2L1527.0,1013.7L1526.0,1014.2L1525.0,1012.3L1524.0,1012.8L1523.0,1015.0L1522.0,1015.7L1521.0,1016.3L1520.0,1017.0L1519.0,1017.7L1518.0,1017.0L1517.0,1017.0L1516.0,1019.0L1515.0,1019.0L1514.0,1019.0L1513.0,1018.0L1512.0,1018.0L1511.0,1018.8L1510.0,1019.6L1509.0,1018.8L1508.0,1019.6L1507.0,1020.1L1506.0,1022.5L1505.0,1024.9L1504.0,1027.3L1503.0,1029.7L1502.0,1033.9L1501.0,1035.5L1500.0,1037.1L1499.0,1038.7L1498.0,1038.1L1497.0,1039.7L1496.0,1042.2L1495.0,1042.6L1494.0,1043.0L1493.0,1043.4L1492.0,1043.8L1491.0,1043.6L1490.0,1044.1L1489.0,1045.3L1488.0,1045.8L1487.0,1047.6L1486.0,1048.3L1485.0,1050.1L1484.0,1053.1L1483.0,1052.9L1482.0,1052.7L1481.0,1053.8L1480.0,1053.6L1479.0,1053.4L1478.0,1051.8L1477.0,1050.2L1476.0,1045.9L1475.0,1044.3L1474.0,1042.7L1473.0,1040.4L1472.0,1037.6L1471.0,1034.8L1470.0,1032.5L1469.0,1029.7L1468.0,1028.5L1467.0,1027.3L1466.0,1026.1L1465.0,1025.2L1464.0,1024.0L1463.0,1023.8L1462.0,1023.6L1461.0,1021.0L1460.0,1020.8L1459.0,1020.6L1458.0,1021.1L1457.0,1019.7L1456.0,1019.0L1455.0,1017.6L1454.0,1013.6L1453.0,1010.4L1452.0,1008.8L1451.0,1005.6L1450.0,1002.4L1449.0,1000.9L1448.0,998.5L1447.0,996.1L1446.0,992.2L1445.0,989.8L1444.0,987.4L1443.0,983.3L1442.0,980.1L1441.0,976.9L1440.0,973.7L1439.0,973.1L1438.0,972.3L1437.0,971.5L1436.0,970.7L1435.0,968.2L1434.0,967.4L1433.0,968.6L1432.0,970.1L1431.0,971.3L1430.0,972.4L1429.0,973.6L1428.0,974.6L1427.0,976.7L1426.0,977.7L1425.0,978.7L1424.0,979.2L1423.1,979.7L1422.2,979.7L1421.2,980.2L1420.0,980.7L1419.1,981.2L1418.1,981.8L1417.2,982.4L1416.2,981.2L1415.3,981.7L1414.3,982.3L1413.4,982.9L1412.4,999.8L1411.2,1012.8L1410.0,1027.3L1409.0,1027.6L1408.0,1027.8L1407.0,1026.9L1406.0,1027.1L1405.0,1026.4L1404.0,1024.6L1403.0,1022.9L1402.0,1021.1L1401.0,1015.1L1400.0,1008.9L1399.0,1002.9L1398.0,996.9L1397.0,989.1L1396.0,982.1L1395.0,973.8L1394.0,966.8L1393.0,964.4L1392.0,960.7L1391.0,958.3L1390.0,955.9L1389.0,953.5L1388.0,956.6L1387.0,957.0L1386.0,957.4L1385.0,957.8L1384.0,956.9L1383.0,958.2L1382.0,959.4L1381.0,960.7L1380.0,962.4L1379.1,961.6L1378.2,960.9L1377.3,960.1L1376.4,960.4L1375.3,961.0L1374.1,961.7L1373.0,962.4L1372.0,963.4L1371.0,964.7L1370.0,965.7L1369.0,965.3L1368.0,970.8L1367.0,976.3L1366.0,981.8L1365.0,989.3L1364.0,992.6L1363.0,995.9L1362.0,999.3L1361.0,998.0L1360.0,998.5L1359.0,999.0L1358.0,998.8L1357.0,996.3L1356.0,996.1L1355.0,996.9L1354.0,938.9L1353.0,941.4L1352.0,943.9L1351.0,948.9L1350.0,949.1L1349.0,949.1L1348.0,949.1L1347.0,950.5L1346.0,930.5L1345.0,929.5L1344.0,928.5L1343.0,926.5L1342.0,925.5L1341.0,912.5L1340.0,899.5L1339.0,898.4L1338.0,895.9L1337.0,892.1L1336.0,889.6L1335.0,889.2L1334.0,887.0L1333.0,886.7L1332.0,889.1L1331.0,888.6L1330.0,888.1L1329.0,888.1L1328.0,887.1L1327.0,859.1L1326.0,857.4L1325.0,856.4L1324.0,855.4L1323.0,831.4L1322.0,824.6L1321.0,816.6L1320.0,808.6L1319.0,799.2L1318.0,779.2L1317.0,759.2L1316.0,719.2L1315.0,716.1L1314.0,712.1L1313.0,708.1L1312.0,704.9L1311.0,700.9L1310.0,702.6L1309.0,704.2L1308.0,705.3L1307.0,706.1L1306.0,706.8L1305.0,707.6L1304.0,705.5L1303.0,706.8L1302.0,708.0L1301.0,709.3L1300.0,712.4L1299.0,711.6L1298.0,710.9L1297.0,711.0L1296.0,710.3L1295.0,701.3L1294.0,692.3L1293.0,682.1L1292.0,682.1L1291.0,681.6L1290.0,681.6L1289.0,683.1L1288.0,679.3L1287.0,675.9L1286.0,672.2L1285.0,668.4L1284.0,662.3L1283.0,658.3L1282.0,657.4L1281.0,653.4L1280.0,652.6L1279.0,648.5L1278.0,647.7L1277.0,646.9L1276.0,646.1L1275.0,648.1L1274.0,650.1L1273.0,652.1L1272.0,654.1L1271.0,657.5L1270.0,659.8L1269.0,662.0L1268.0,664.6L1267.0,666.8L1266.0,670.1L1265.0,671.7L1264.0,674.9L1263.0,678.2L1262.0,683.1L1261.0,686.1L1260.0,689.1L1259.0,692.1L1258.0,691.8L1257.0,691.6L1256.0,691.3L1255.0,691.1L1254.0,689.8L1253.0,689.8L1252.0,688.5L1251.0,687.3L1250.0,676.5L1249.0,667.5L1248.0,658.5L1247.0,649.5L1246.0,645.9L1245.0,641.8L1244.0,638.2L1243.0,634.8L1242.0,631.2L1241.0,634.6L1240.0,636.6L1239.0,638.6L1238.0,640.6L1237.0,640.9L1236.0,640.0L1235.0,640.2L1234.0,640.5L1233.0,638.6L1232.0,637.6L1231.0,636.6L1230.0,635.9L1229.0,634.9L1228.0,633.1L1227.0,631.3L1226.0,629.5L1225.0,630.2L1224.0,628.4L1223.0,628.2L1222.0,627.1L1221.0,626.9L1220.0,626.7L1219.0,625.6L1218.0,625.2L1217.0,625.0L1216.0,624.6L1215.0,624.1L1214.0,623.7L1213.0,623.0L1212.0,622.8L1211.0,622.9L1210.0,622.7L1209.0,622.5L1208.0,621.3L1207.0,620.0L1206.0,616.9L1205.0,615.7L1204.0,612.9L1203.0,611.6L1202.0,608.8L1201.0,606.0L1200.0,601.9L1199.0,602.9L1198.0,603.9L1197.0,607.8L1196.0,608.8L1195.0,606.3L1194.0,606.3L1193.0,606.3L1192.0,609.1L1191.0,611.1L1190.0,613.1L1189.0,615.1L1188.0,617.1L1186.8,637.8L1185.6,658.8L1184.5,660.1L1183.5,658.4L1182.4,659.8L1181.3,663.0L1180.1,663.6L1179.0,661.6L1178.0,661.6L1177.0,665.4L1176.0,665.4L1175.0,665.1L1174.0,661.4L1173.0,661.1L1172.0,660.7L1171.0,662.1L1170.0,661.8L1169.0,663.7L1168.0,664.7L1167.0,665.7L1166.0,665.2L1165.0,666.2L1164.0,668.2L1163.0,670.0L1162.0,671.8L1161.0,673.6L1160.0,675.4L1159.0,676.6L1158.0,678.2L1157.0,679.8L1156.0,680.7L1155.0,682.3L1154.0,683.1L1153.0,683.2L1152.0,684.0L1151.0,684.8L1150.0,685.6L1149.0,687.3L1148.0,691.6L1147.0,693.3L1146.0,695.1L1145.0,695.4L1144.0,695.6L1143.0,695.8L1142.0,696.0L1141.0,696.3L1140.0,695.5L1139.0,694.7L1138.0,691.8L1137.0,691.0L1136.0,690.2L1135.0,690.4L1134.0,692.9L1133.0,693.1L1132.0,693.3L1131.0,693.5L1130.0,692.6L1129.0,693.2L1128.0,696.3L1127.0,696.9L1126.0,695.5L1125.0,697.3L1124.0,699.1L1123.0,701.5L1122.0,703.3L1121.0,705.1L1120.0,705.3L1119.0,705.5L1118.0,705.7L1117.0,705.9L1116.0,706.1L1115.0,706.1L1114.0,706.1L1113.0,707.1L1112.0,707.1L1111.0,704.5L1110.0,710.5L1109.0,716.5L1108.0,721.7L1107.0,721.3L1106.0,723.8L1105.0,723.4L1104.0,709.1L1103.0,694.8L1102.0,680.4L1101.0,680.1L1100.0,680.1L1099.0,680.1L1098.0,680.1L1097.0,680.1L1096.0,678.9L1095.0,677.7L1094.0,675.5L1093.0,674.3L1092.0,673.1L1091.0,670.4L1090.0,668.9L1089.0,667.4L1088.0,665.9L1087.0,669.3L1086.0,669.8L1085.0,670.3L1084.0,670.8L1083.0,672.0L1082.0,671.1L1081.0,672.3L1080.0,673.5L1079.0,674.7L1078.0,675.9L1077.0,677.3L1076.0,678.5L1075.0,679.7L1074.0,680.9L1073.0,681.7L1072.0,681.3L1071.0,682.1L1070.0,684.7L1069.0,685.5L1068.0,688.5L1067.0,691.2L1066.0,694.2L1065.0,697.2L1064.0,698.5L1063.0,701.1L1062.0,702.4L1061.0,701.9L1060.0,699.5L1059.0,699.0L1058.0,698.5L1057.0,687.8L1056.0,677.2L1055.0,666.7L1054.0,667.1L1053.0,667.6L1052.0,668.0L1051.0,668.4L1050.0,668.6L1049.0,669.1L1048.0,669.6L1047.0,672.0L1046.0,672.5L1045.0,673.0L1044.0,673.5L1043.0,673.8L1042.0,674.3L1041.0,674.8L1040.0,675.3L1039.0,675.9L1038.0,673.9L1037.0,674.5L1036.0,675.1L1035.0,675.7L1034.0,675.0L1033.0,674.6L1032.0,674.0L1031.0,669.3L1030.0,666.9L1029.0,662.2L1028.0,663.4L1027.0,662.7L1026.0,663.9L1025.0,666.8L1024.0,668.0L1023.0,668.6L1022.0,670.7L1021.0,671.4L1020.0,670.4L1019.0,669.4L1018.0,668.4L1017.0,664.6L1016.0,654.6L1015.0,644.6L1014.0,634.6L1013.0,624.6L1012.0,628.4L1011.0,630.9L1010.0,633.4L1009.0,636.2L1008.0,636.2L1007.0,636.2L1006.0,634.3L1005.0,628.9L1004.0,622.9L1003.0,617.6L1002.0,618.9L1001.0,620.5L1000.0,621.8L999.0,625.3L998.0,628.8L997.0,632.3L996.0,635.8L995.0,637.8L994.0,639.8L993.0,643.5L992.0,645.5L991.0,646.3L990.0,647.0L989.0,646.3L988.0,647.0L987.0,649.8L986.0,649.8L985.0,649.8L984.0,649.8L983.0,648.4L982.0,649.0L981.0,649.6L980.0,650.2L979.0,651.4L978.0,652.0L977.0,652.3L976.0,653.3L975.0,654.3L974.0,655.8L973.0,656.8L972.0,657.8L971.0,661.3L970.0,664.5L969.0,667.7L968.0,668.8L967.0,672.0L966.0,674.2L965.0,678.7L964.0,680.9L963.0,680.7L962.0,680.4L961.0,680.2L960.0,680.4L959.0,680.1L958.0,678.9L957.0,677.7L956.0,676.5L955.0,675.4L954.0,674.2L953.0,673.8L952.0,673.4L951.0,674.8L950.0,674.4L949.0,674.0L948.0,674.1L947.0,673.9L946.0,673.7L945.0,673.5L944.0,673.3L943.0,673.5L942.0,672.7L941.0,672.0L940.0,671.2L939.0,672.5L938.0,674.1L937.0,675.4L936.0,675.8L935.0,677.2L934.0,678.5L933.0,679.7L932.0,678.3L931.0,679.5L930.0,681.4L929.0,682.6L928.0,683.9L927.0,687.7L926.0,689.0L925.0,690.2L924.0,690.6L923.0,691.0L922.0,689.9L921.0,690.3L920.0,690.3L919.0,690.7L918.0,691.0L917.0,690.0L916.0,690.3L915.0,690.6L914.0,691.0L913.0,694.8L912.0,695.3L911.0,695.8L910.0,695.1L909.0,695.6L908.0,696.1L907.0,695.5L906.0,695.8L905.0,696.2L904.0,696.5L903.0,696.4L902.0,696.7L901.0,704.0L900.0,708.5L899.0,713.0L898.0,717.5L897.0,716.8L896.0,717.4L895.0,718.1L894.0,717.4L893.0,716.7L892.0,715.4L891.0,710.8L890.0,706.1L889.0,701.4L888.0,701.4L887.0,702.7L886.0,702.7L885.0,700.2L884.0,700.2L883.0,700.2L882.0,702.8L881.0,702.8L880.0,702.8L879.0,700.3L878.0,703.1L877.0,707.9L876.0,710.7L875.0,713.5L874.0,716.3L873.0,720.3L872.0,724.6L871.0,728.6L870.0,729.6L869.0,728.3L868.0,729.3L867.0,728.6L866.0,727.9L865.0,727.3L864.0,719.8L863.0,712.1L862.0,704.4L861.0,708.2L860.0,709.4L859.0,710.6L858.0,711.8L857.0,712.1L856.0,714.5L855.0,716.3L854.0,718.7L853.0,721.1L852.0,723.1L851.0,726.1L850.0,728.6L849.0,731.6L848.0,734.6L847.0,738.8L846.0,742.3L845.0,745.8L844.0,750.5L843.0,754.0L841.9,757.5L840.8,759.2L839.8,762.7L838.8,762.9L837.9,765.0L837.0,765.2L836.0,765.5L835.0,763.8L834.0,763.5L833.0,763.2L832.0,762.0L831.0,760.5L830.0,759.0L829.0,757.5L828.0,749.5L827.0,740.0L826.0,730.5L825.0,721.0L824.0,700.6L823.0,683.1L822.0,684.5L821.0,687.9L820.0,689.3L819.0,689.7L818.0,691.1L817.0,692.3L816.0,693.3L815.0,694.5L814.0,695.7L813.0,696.9L812.0,698.7L811.0,699.5L810.0,700.3L809.0,698.7L808.0,699.5L807.0,705.0L806.0,713.8L805.0,719.3L804.0,724.8L803.0,726.8L802.0,729.3L801.0,731.3L800.0,733.3L799.0,733.3L798.0,733.2L797.0,733.2L796.0,733.2L795.0,733.2L794.0,733.0L793.0,729.3L792.0,729.1L791.0,728.9L790.0,728.7L789.0,726.9L788.0,726.5L787.0,724.7L786.0,723.0L785.0,719.7L784.0,716.9L783.0,715.0L782.0,712.2L781.0,708.5L780.0,709.1L779.0,709.7L778.0,710.3L777.0,713.6L776.0,714.2L775.0,714.2L774.0,714.2L773.0,714.2L772.0,710.9L771.0,710.9L770.0,710.9L769.0,709.9L768.0,710.0L767.0,709.0L766.0,708.0L765.0,707.7L764.0,706.9L763.0,704.2L762.0,703.4L761.0,702.6L760.0,704.9L759.0,699.9L758.0,694.9L757.0,689.9L756.0,682.7L755.0,683.7L754.0,684.3L753.0,685.3L752.0,686.3L751.0,690.4L750.0,691.6L749.0,690.7L748.0,691.9L747.0,693.1L746.0,694.5L745.0,694.7L744.0,693.0L743.0,693.2L742.0,694.2L741.0,694.0L740.0,693.8L739.0,693.6L738.0,695.3L737.0,695.1L736.0,695.1L735.0,691.9L734.0,691.9L733.0,691.9L732.0,692.4L731.0,692.2L730.0,691.9L729.0,694.6L728.0,694.4L727.0,693.6L726.0,692.9L725.0,691.2L724.0,690.5L723.0,691.3L722.0,690.5L721.0,691.3L720.0,692.1L719.0,692.9L718.0,695.1L717.0,695.9L716.0,696.6L715.0,697.4L714.0,698.2L713.0,697.5L712.0,697.5L711.0,697.5L710.0,699.3L709.0,699.3L708.0,697.9L707.0,698.4L706.0,698.9L705.0,700.1L704.0,702.5L703.0,704.9L702.0,705.9L701.0,708.3L700.0,710.7L699.0,714.7L698.0,718.7L697.0,722.3L696.0,726.3L695.0,728.7L694.0,731.1L693.0,733.5L692.0,737.9L691.0,740.3L690.0,743.8L689.0,747.3L688.0,751.8L687.0,755.3L686.0,756.3L685.0,754.4L684.0,755.4L683.0,756.4L682.0,754.0L681.0,752.5L680.0,754.8L679.0,753.3L678.0,749.8L677.0,749.2L676.0,751.1L675.0,750.5L674.0,749.9L673.0,750.7L672.0,751.4L671.0,748.8L670.0,749.5L669.0,753.1L668.0,756.7L667.0,763.1L666.0,766.7L665.0,770.3L664.0,772.8L663.0,775.9L662.0,778.4L661.0,780.9L660.0,778.3L659.0,777.5L658.0,776.8L657.0,774.9L656.0,772.3L655.0,769.7L654.0,770.6L653.0,768.0L652.0,765.4L651.0,766.0L650.0,766.7L649.0,764.3L648.0,765.0L647.0,765.7L646.0,766.3L645.0,767.0L644.0,767.6L643.0,768.3L642.0,769.0L641.0,769.6L640.0,770.3L639.0,772.5L638.0,775.2L637.0,777.9L636.0,780.5L635.0,783.2L634.0,786.2L633.0,787.0L632.0,788.9L631.0,789.7L630.0,790.5L629.0,791.4L628.0,792.7L627.0,795.3L626.0,797.9L625.0,800.5L624.0,801.2L623.0,803.8L622.0,809.3L621.0,815.2L620.0,820.7L619.0,826.7L618.0,828.0L617.0,829.4L616.0,830.7L615.0,830.4L614.0,830.2L613.0,829.3L612.0,829.0L611.0,828.0L610.0,827.0L609.0,826.0L608.0,819.8L607.0,812.3L606.0,804.8L605.0,797.3L604.0,795.7L603.0,795.7L602.0,799.2L601.0,799.2L600.0,799.2L599.0,799.8L598.0,800.0L597.0,800.6L596.0,801.3L595.0,800.6L594.0,801.2L593.0,801.7L592.0,803.0L591.0,803.5L590.0,804.0L589.0,802.6L588.0,802.6L587.0,801.8L586.0,801.8L585.0,802.3L584.0,802.8L583.0,803.3L582.0,804.5L581.0,805.0L580.0,805.5L579.0,808.8L578.0,809.3L577.0,807.0L576.0,808.5L575.0,810.0L574.0,813.2L573.0,814.2L572.0,815.2L571.0,817.2L570.0,818.2L569.0,827.6L568.0,836.9L567.0,845.1L565.9,844.7L564.7,844.4L563.6,844.1L562.7,840.9L561.8,838.1L560.9,835.4L560.0,832.6L559.0,831.6L558.0,830.0L557.0,829.0L556.0,828.0L555.0,827.1L554.0,826.1L553.0,826.5L552.0,826.7L551.0,826.9L550.0,827.1L549.0,829.8L548.0,830.0L547.0,828.2L546.0,828.4L545.0,831.2L544.0,831.6L543.0,832.3L542.0,832.7L541.0,830.2L540.0,830.6L539.0,831.8L538.0,833.0L537.0,834.2L536.0,837.1L535.0,838.3L534.0,837.4L533.0,837.4L532.0,838.0L531.0,838.0L530.0,838.0L529.0,840.5L528.0,843.0L527.0,845.5L526.0,848.0L525.0,854.5L524.0,858.8L523.0,865.3L522.0,871.8L521.0,874.1L520.0,876.9L519.0,879.2L518.0,881.4L516.8,894.0L515.6,906.5L514.7,907.5L513.8,908.5L512.9,912.1L512.0,913.1L511.0,912.4L510.0,911.8L509.0,911.1L508.0,908.0L507.0,906.5L506.0,905.0L505.0,904.0L504.0,882.7L503.0,862.2L502.0,840.8L501.0,839.3L500.0,837.8L499.0,833.5L498.0,832.0L497.0,827.8L496.0,823.8L495.0,819.8L494.0,818.8L493.0,814.8L492.0,810.5L491.0,810.5L490.0,810.5L489.0,810.5L488.0,810.5L487.0,810.0L486.0,810.0L485.0,808.4L484.0,806.8L483.0,805.2L482.0,804.4L481.0,802.8L480.0,799.1L479.0,798.1L478.0,797.1L477.0,796.1L476.0,799.4L475.0,800.4L474.0,801.4L473.0,802.9L472.0,803.9L471.0,803.2L470.0,802.6L469.0,801.9L468.0,798.0L467.0,797.3L466.0,796.7L465.0,795.8L464.0,795.0L463.0,794.4L462.0,793.5L461.0,794.3L460.0,793.5L459.0,789.1L458.0,782.7L457.0,778.3L456.0,773.9L455.0,770.8L454.0,770.0L453.0,769.2L452.0,768.4L451.0,767.6L450.0,769.3L449.0,769.0L448.0,768.7L447.0,765.1L446.0,764.8L445.0,764.5L444.0,767.0L443.0,764.6L442.0,762.3L441.0,760.0L440.0,754.5L439.0,752.2L438.0,749.6L437.0,750.7L436.0,751.9L435.0,754.6L434.0,755.8L433.0,757.0L432.0,759.3L431.0,758.4L430.0,757.6L429.0,757.3L428.0,756.5L427.0,755.7L426.0,754.8L425.0,754.8L424.0,755.2L423.0,755.2L422.0,755.2L421.0,753.6L420.0,753.6L419.0,753.6L418.0,755.6L417.0,759.6L416.0,764.6L415.0,768.6L414.0,769.0L413.0,770.1L412.0,770.5L411.0,770.9L410.0,772.0L409.0,771.5L408.0,771.0L407.0,769.0L406.0,768.5L405.0,760.5L404.0,753.6L403.0,745.6L402.0,739.2L401.0,736.2L400.0,733.2L399.0,730.2L398.0,725.3L397.0,724.6L396.0,722.5L395.0,721.8L394.1,729.8L393.2,739.2L392.3,747.2L391.4,755.2L390.3,762.0L389.1,767.4L388.0,771.5L387.0,772.0L386.0,772.5L385.0,772.6L384.0,772.8L383.0,772.6L382.0,772.8L381.0,773.0L380.0,772.6L379.0,772.9L378.0,773.2L377.0,772.8L376.0,773.2L375.0,777.1L374.0,777.4L373.0,776.3L372.0,776.7L371.0,777.0L370.0,777.3L369.0,777.7L368.0,777.0L367.0,778.4L366.0,779.5L365.0,780.9L364.0,783.7L363.0,785.1L362.0,784.9L361.0,788.1L360.0,791.3L359.0,794.5L358.0,796.9L357.0,800.1L356.0,803.6L355.0,808.1L354.0,811.6L353.0,817.4L352.0,818.0L351.0,818.6L350.0,819.1L349.0,819.7L348.0,820.3L347.0,819.5L346.0,819.3L345.0,819.1L344.0,817.6L343.0,817.4L342.0,817.3L341.0,818.3L340.0,820.9L339.0,821.9L338.0,822.9L337.0,824.2L336.0,820.9L335.0,817.7L334.0,814.5L333.0,811.3L332.0,805.7L331.0,800.1L330.0,794.5L329.0,786.9L328.0,781.3L327.0,780.1L326.0,781.0L325.0,779.8L324.0,778.6L323.0,777.4L322.0,779.4L321.0,779.3L320.0,781.3L319.0,783.5L318.0,785.5L317.0,784.7L316.0,785.0L315.0,787.8L314.0,788.0L313.0,781.6L312.0,775.9L311.0,770.2L310.0,767.1L309.0,764.4L308.0,760.2L307.0,763.4L306.0,766.6L305.0,772.6L304.0,775.8L303.0,777.6L302.0,780.8L301.0,784.0L300.0,786.8L299.0,790.0L298.0,793.2L297.0,794.8L296.0,796.4L295.0,799.9L294.0,801.5L293.0,803.1L292.0,807.1L291.0,811.1L290.0,812.5L289.0,816.5L288.0,822.5L287.0,828.7L286.0,834.7L285.0,838.7L284.0,844.8L283.0,848.8L282.0,849.6L281.0,849.1L280.0,849.9L279.0,851.7L278.0,850.4L277.0,849.9L276.0,848.7L275.0,847.4L274.0,834.2L273.0,821.0L272.0,806.3L271.0,793.1L270.0,779.9L269.0,777.0L268.0,772.5L267.0,768.0L266.0,762.4L265.0,759.4L264.0,753.8L263.0,750.8L262.0,747.8L261.0,747.2L260.0,745.0L259.0,742.8L258.0,741.9L257.0,739.7L256.0,739.4L255.0,739.4L254.0,739.1L253.0,738.9L252.0,738.9L251.0,738.9L250.0,736.9L249.0,736.9L248.0,736.9L247.0,743.7L246.0,751.1L245.0,761.3L244.0,762.3L243.0,763.3L242.0,768.9L241.0,775.6L240.0,782.3L239.0,793.6L238.0,806.3L237.0,818.9L236.0,820.9L235.0,871.5L234.0,920.5L233.0,922.0L232.0,923.5L231.0,923.3L230.0,924.8L229.0,926.8L228.0,928.8L227.0,930.8L226.3,932.9L225.0,932.9L224.0,934.9L223.0,936.7L222.0,938.7L221.0,941.2L220.0,943.7L219.0,946.2L218.0,948.9L217.0,949.9L216.0,950.9L215.0,951.9L214.0,952.9L213.0,954.6L212.0,955.6L211.0,956.6L210.0,958.5L209.0,959.5L208.0,957.8L207.0,958.8L206.0,959.8L205.0,963.5L204.0,963.5L203.0,963.5L202.0,963.5L201.0,961.9L200.0,961.9L199.0,961.4L198.0,958.6L197.0,958.1L196.0,957.6L195.0,957.1L194.0,956.6L193.0,961.3L192.0,962.3L191.0,959.9L190.0,960.9L189.0,961.9L188.0,961.9L187.0,963.0L186.0,963.0L185.0,963.5L184.0,964.0L183.0,963.6L182.0,964.1L181.0,964.6L180.0,965.1L179.0,966.1L178.0,967.3L177.0,968.3L176.0,970.3L175.0,971.3L174.0,972.3L173.0,974.6L172.0,977.6L171.0,980.6L170.0,983.6L169.0,982.3L168.0,983.2L167.0,984.0L166.0,984.9L165.0,985.7L164.0,986.5L163.0,987.5L162.0,988.2L161.0,988.8L160.0,991.9L159.0,992.6L158.0,993.2L157.0,994.5L156.0,995.0L155.0,995.5L154.0,996.0L153.0,994.7L152.0,994.2L151.0,993.7L150.0,993.1L149.0,992.6L148.0,992.1L147.0,991.1L146.0,989.4L145.0,988.4L144.0,987.9L143.0,986.9L142.0,985.9L141.0,985.6L140.0,987.4L139.0,987.0L138.0,986.7L137.0,986.4L136.0,985.1L135.0,984.3L134.0,983.4L133.0,980.2L132.0,979.4L131.0,981.5L130.0,980.7L129.0,980.2L128.0,979.7L127.0,979.2L126.0,978.7L125.0,978.2L124.0,977.7L123.0,977.5L122.0,977.3L121.0,977.1L120.0,976.9L119.0,974.3L118.0,974.1L117.0,972.6L116.0,971.0L115.0,969.5L114.0,970.4L113.0,968.9L112.0,967.4L111.0,964.2L110.0,963.5L109.0,962.8L108.0,963.3L107.0,962.6L106.0,961.9L105.0,961.1L104.0,960.5L103.0,959.7L102.0,958.9L101.0,958.0L100.0,957.2L99.0,958.3L98.0,958.8L97.0,957.4L96.0,957.9L95.0,958.4L94.0,959.7L93.0,959.9L92.0,960.1L91.0,960.2L90.0,960.4L89.0,960.5L88.0,960.7L87.1,960.4L86.2,962.9L85.3,962.7L84.4,962.3L83.2,962.3L82.0,962.3L81.2,962.3L80.4,962.3L79.2,958.5L78.0,958.0L77.0,957.5L76.0,957.0L75.0,956.5L74.0,955.9L72.8,953.4L71.6,950.9L70.8,949.1L70.0,947.6L69.0,945.4L68.0,944.5L67.0,942.2L66.0,941.1L65.1,940.1L64.2,939.1L63.3,938.1Z" fill="#FFA028" stroke="#FFA028" stroke-width="0.4" stroke-linejoin="round"/>
<defs><mask id="tm"><rect width="1999" height="1400" fill="#fff"/></mask></defs><g mask="url(#tm)">
<text transform="translate(45.29,122.40) scale(1.1349,1)" font-size="62.0" font-weight="bold" fill="#fff" stroke="#fff" stroke-width="0.8">Oil's</text>
<text transform="translate(220.15,122.40) scale(1.0046,1)" font-size="62.0" font-weight="bold" fill="#fff" stroke="#fff" stroke-width="0.8">Rocky</text>
<text transform="translate(433.84,122.40) scale(1.0826,1)" font-size="62.0" font-weight="bold" fill="#fff" stroke="#fff" stroke-width="0.8">Ride</text>
<text transform="translate(43.74,189.50) scale(0.9818,1)" font-size="58.0" fill="#fff">Futures</text>
<text transform="translate(258.80,189.50) scale(0.9172,1)" font-size="58.0" fill="#fff">saw</text>
<text transform="translate(380.50,189.50) scale(1.0491,1)" font-size="58.0" fill="#fff">wild</text>
<text transform="translate(504.17,189.50) scale(1.0429,1)" font-size="58.0" fill="#fff">price</text>
<text transform="translate(656.29,189.50) scale(0.9832,1)" font-size="58.0" fill="#fff">swings</text>
<text transform="translate(849.66,189.50) scale(1.0459,1)" font-size="58.0" fill="#fff">before</text>
<text transform="translate(1039.54,189.50) scale(1.0106,1)" font-size="58.0" fill="#fff">slumping</text>
<line x1="50.0" y1="284.3" x2="82.3" y2="251.4" stroke="#FFA028" stroke-width="6.9"/>
<text transform="translate(108.33,283.20) scale(1.0178,1)" font-size="47.5" fill="#fff">Brent</text>
<text transform="translate(243.66,283.20) scale(1.0383,1)" font-size="47.5" fill="#fff">futures</text>
<text transform="translate(1702.88,338.30) scale(0.9610,1)" font-size="43.3" fill="#fff">$85</text>
<text transform="translate(1788.25,338.30) scale(0.8386,1)" font-size="43.3" fill="#fff">a</text>
<text transform="translate(1828.08,338.30) scale(1.1095,1)" font-size="43.3" fill="#fff">barrel</text>
<text transform="translate(1900.01,528.30) scale(1.0202,1)" font-size="43.3" fill="#fff">80</text>
<text transform="translate(1899.77,718.00) scale(1.0302,1)" font-size="43.3" fill="#fff">75</text>
<text transform="translate(1899.78,908.00) scale(1.0252,1)" font-size="43.3" fill="#fff">70</text>
<text transform="translate(1899.77,1097.30) scale(1.0302,1)" font-size="43.3" fill="#fff">65</text>
<text transform="translate(206.49,1185.40) scale(0.9563,1)" font-size="43.3" fill="#fff">13</text>
<text transform="translate(368.79,1185.40) scale(0.9563,1)" font-size="43.3" fill="#fff">15</text>
<text transform="translate(375.29,1185.40) scale(0.9563,1)" font-size="43.3" fill="#fff">16</text>
<text transform="translate(543.21,1185.40) scale(0.9660,1)" font-size="43.3" fill="#fff">17</text>
<text transform="translate(705.24,1185.40) scale(0.9563,1)" font-size="43.3" fill="#fff">18</text>
<text transform="translate(866.98,1185.40) scale(0.9611,1)" font-size="43.3" fill="#fff">19</text>
<text transform="translate(998.09,1185.40) scale(0.9283,1)" font-size="43.3" fill="#fff">20</text>
<text transform="translate(1160.56,1185.40) scale(0.9421,1)" font-size="43.3" fill="#fff">22</text>
<text transform="translate(1167.58,1185.40) scale(0.9328,1)" font-size="43.3" fill="#fff">23</text>
<text transform="translate(1336.10,1185.40) scale(0.9238,1)" font-size="43.3" fill="#fff">24</text>
<text transform="translate(1498.83,1185.40) scale(0.9328,1)" font-size="43.3" fill="#fff">25</text>
<text transform="translate(1660.08,1185.40) scale(0.9328,1)" font-size="43.3" fill="#fff">26</text>
<text x="850.1" y="1238.2" font-size="42.8" font-weight="normal" fill="#b0b0b0" text-anchor="middle">J</text>
<text x="877.1" y="1238.2" font-size="42.8" font-weight="normal" fill="#b0b0b0" text-anchor="middle">u</text>
<text x="904.4" y="1238.2" font-size="42.8" font-weight="normal" fill="#b0b0b0" text-anchor="middle">n</text>
<text x="931.2" y="1238.2" font-size="42.8" font-weight="normal" fill="#b0b0b0" text-anchor="middle">e</text>
<text x="976.5" y="1238.2" font-size="42.8" font-weight="normal" fill="#b0b0b0" text-anchor="middle">2</text>
<text x="1003.5" y="1238.2" font-size="42.8" font-weight="normal" fill="#b0b0b0" text-anchor="middle">0</text>
<text x="1030.8" y="1238.2" font-size="42.8" font-weight="normal" fill="#b0b0b0" text-anchor="middle">2</text>
<text x="1058.1" y="1238.2" font-size="42.8" font-weight="normal" fill="#b0b0b0" text-anchor="middle">5</text>
<text transform="translate(45.02,1351.30) scale(1.0159,1)" font-size="43.3" fill="#fff">Source:</text>
<text transform="translate(211.53,1351.30) scale(0.9159,1)" font-size="43.3" fill="#fff">ICE,</text>
<text transform="translate(304.58,1351.30) scale(1.0173,1)" font-size="43.3" fill="#fff">Bloomberg</text>
<text transform="translate(1719.19,1344.60) scale(0.9761,1)" font-size="45.8" font-weight="bold" fill="#fff">Bloomberg</text>
</g>
</svg></body></html>
